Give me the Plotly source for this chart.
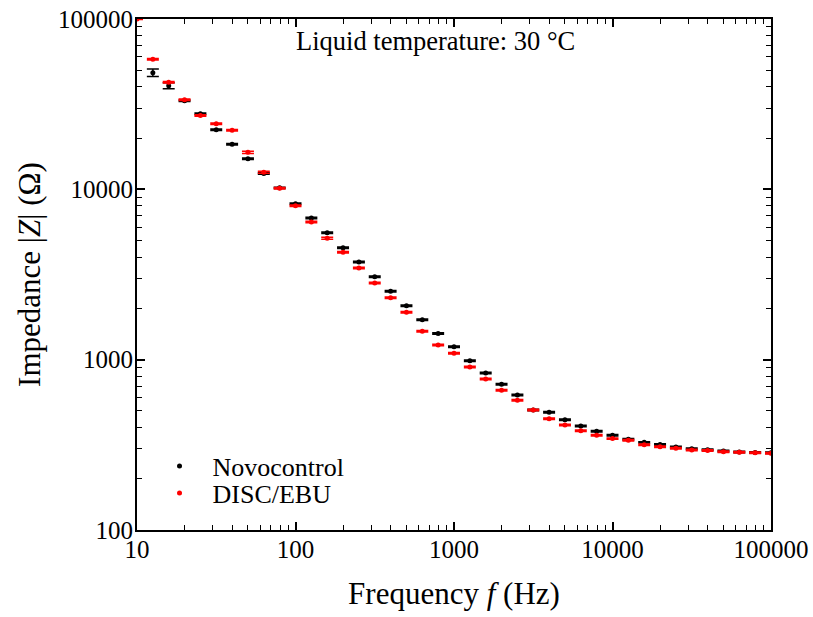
import plotly.graph_objects as go

# Measurement frequencies (Hz), 10 points per decade
freq_novo = [12.59, 15.85, 19.95, 25.12, 31.62, 39.81, 50.12, 63.10, 79.43,
             100, 125.9, 158.5, 199.5, 251.2, 316.2, 398.1, 501.2, 631.0, 794.3,
             1000, 1259, 1585, 1995, 2512, 3162, 3981, 5012, 6310, 7943,
             10000, 12589, 15849, 19953, 25119, 31623, 39811, 50119, 63096, 79433, 100000]
freq_disc = [10] + freq_novo

# Impedance magnitude |Z| (Ohm)
z_novo = [48400, 40600, 33100, 27800, 22400, 18400, 15100, 12400, 10200,
          8230, 6790, 5565, 4543, 3745, 3069, 2520, 2074, 1716, 1424,
          1192, 986, 835, 717, 620, 506, 491, 444, 408, 380,
          360, 341, 327, 318, 307, 300, 296, 291, 287, 285, 284]
z_disc = [100000, 58000, 42500, 33600, 27100, 24300, 22200, 16500, 12600, 10150,
          8010, 6430, 5157, 4269, 3452, 2819, 2310, 1897, 1467, 1219,
          1090, 906, 770, 661, 577, 506, 450, 413, 383, 360,
          344, 336, 317, 308, 302, 295, 293, 288, 286, 284, 282]

# Standard deviation of |Z| (Ohm)
err_novo = [2400, 1650, 350, 280, 220, 180, 150, 120, 100,
            80, 65, 55, 45, 37, 30, 25, 20, 17, 14,
            12, 10, 8, 7, 6, 5, 5, 4, 4, 4,
            3.5, 3.4, 3.2, 3.1, 3, 3, 3, 2.9, 2.9, 2.8, 2.8]
err_disc = [600, 580, 420, 330, 270, 240, 220, 250, 180, 100,
            80, 64, 70, 42, 34, 28, 23, 19, 15, 12,
            11, 9, 8, 7, 6, 5, 4.5, 4, 4, 3.6,
            3.4, 3.4, 3.2, 3.1, 3, 3, 2.9, 2.9, 2.9, 2.8, 2.8]

x_ticks = [10, 100, 1000, 10000, 100000]
y_ticks = [100, 1000, 10000, 100000]

SERIF = "Liberation Serif, Times New Roman, serif"


def minor_positions(major):
    # 2..9 times each decade start
    return [m * k for m in major[:-1] for k in range(2, 10)]


fig = go.Figure()
fig.add_trace(go.Scatter(
    x=freq_novo, y=z_novo, mode="markers", name="Novocontrol",
    legend="legend", showlegend=True,
    marker=dict(color="black", size=5),
    error_y=dict(type="data", array=err_novo, color="black", thickness=1.5, width=6),
))
fig.add_trace(go.Scatter(
    x=freq_disc, y=z_disc, mode="markers", name="DISC/EBU",
    legend="legend2", showlegend=True,
    marker=dict(color="red", size=5),
    error_y=dict(type="data", array=err_disc, color="red", thickness=1.5, width=6),
))

axis_common = dict(
    type="log", showline=True, linecolor="black", linewidth=2, mirror="ticks",
    ticks="inside", ticklen=8, tickwidth=1.6, tickcolor="black",
    showgrid=False, zeroline=False, automargin=False,
    tickfont=dict(family=SERIF, size=25, color="black"),
)

fig.update_xaxes(
    range=[1, 5], tickvals=x_ticks, ticktext=[str(v) for v in x_ticks],
    ticklabelstandoff=-4,
    minor=dict(tickvals=minor_positions(x_ticks), ticks="inside", ticklen=5,
               tickwidth=1.3, tickcolor="black", showgrid=False),
    title=dict(text="Frequency <i>f</i> (Hz)", font=dict(family=SERIF, size=31, color="black"), standoff=20),
    **axis_common,
)
fig.update_yaxes(
    range=[2, 5], tickvals=y_ticks, ticktext=[str(v) for v in y_ticks],
    ticklabelstandoff=-3,
    minor=dict(tickvals=minor_positions(y_ticks), ticks="inside", ticklen=5,
               tickwidth=1.3, tickcolor="black", showgrid=False),
    title=dict(text="Impedance |<i>Z</i>| (Ω)", font=dict(family=SERIF, size=31, color="black"), standoff=8),
    **axis_common,
)

fig.add_annotation(
    text="Liquid temperature: 30 °C", xref="paper", yref="paper",
    x=0.471, y=0.99, xanchor="center", yanchor="top", showarrow=False,
    font=dict(family=SERIF, size=26.5, color="black"),
)

legend_style = dict(xanchor="left", yanchor="middle", bgcolor="rgba(0,0,0,0)",
                    font=dict(family=SERIF, size=26, color="black"), itemwidth=56)

fig.update_layout(
    width=813, height=617,
    margin=dict(l=137, r=42, t=19, b=87),
    paper_bgcolor="white", plot_bgcolor="white",
    showlegend=True,
    legend=dict(x=0.015, y=0.125, **legend_style),
    legend2=dict(x=0.015, y=0.072, **legend_style),
)

fig.write_html("out.html")
